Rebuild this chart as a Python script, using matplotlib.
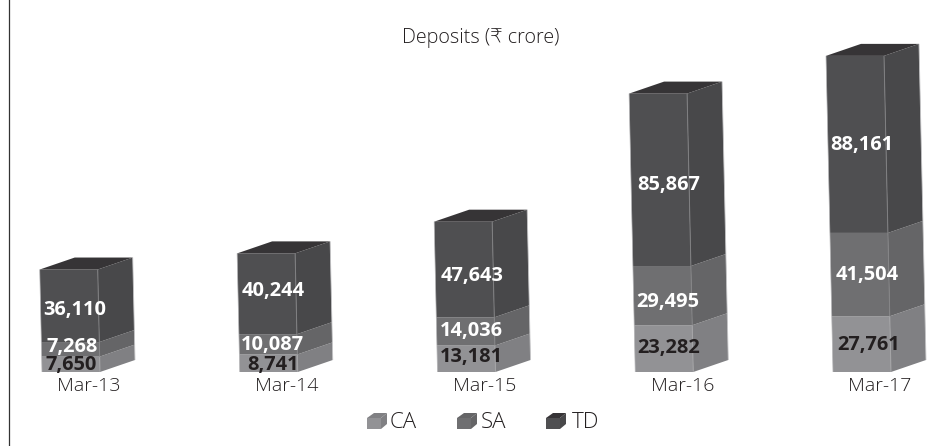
import matplotlib
matplotlib.use("Agg")
import matplotlib.pyplot as plt
import numpy as np
from matplotlib.lines import Line2D
from matplotlib.patches import Polygon
from matplotlib.transforms import Affine2D

plt.rcParams['font.family'] = ['Open Sans', 'DejaVu Sans']

# ------------------ data (Rs crore) ------------------
meses = ["Mar-13", "Mar-14", "Mar-15", "Mar-16", "Mar-17"]
ca = [7650, 8741, 13181, 23282, 27761]
sa = [7268, 10087, 14036, 29495, 41504]
td = [36110, 40244, 47643, 85867, 88161]
nombres = ["CA", "SA", "TD"]

# ------------------ estilos ------------------
W, H = 941, 446
BASE_PX = 372
PX_X = 197.75          # pixeles por categoria
PX_Y = 1 / 498.0       # pixeles por unidad
ANCHO = 58 / PX_X
DX = 35 / PX_X
DY = 12 / PX_Y
LEAN = 7 / PX_X / 157426

colores = {
    "CA": ("#929295", "#808083", "#a5a5a7"),
    "SA": ("#6f6f71", "#656567", "#858587"),
    "TD": ("#4f4f51", "#48484a", "#808082"),
}
TAPA = "#363436"
TEXTO = "#231f20"
color_label = {"CA": "#231f20", "SA": "white", "TD": "white"}

# ajustes finos de las etiquetas, en pixeles (dx, dy hacia arriba)
nudge_x = {
    "CA": [0, 4, 5, 4, 7],
    "SA": [1, 4, 5, 4, 5],
    "TD": [4, 4, 6, 4, 0],
}
nudge_y = {
    "CA": [-1, -2, 2, 1, -1],
    "SA": [2, -1, 0, -6, 0],
    "TD": [-4, 3, -6, -5, -1],
}

fig = plt.figure(figsize=(W / 100, H / 100), dpi=100)
ax = fig.add_axes([0, (H - BASE_PX) / H, 1, BASE_PX / H])
ax.set_xlim(-71 / PX_X, (W - 71) / PX_X)
ax.set_ylim(0, BASE_PX / PX_Y)
for s in ax.spines.values():
    s.set_visible(False)
ax.set_yticks([])


def segmento(x0, y0, y1, nombre):
    """Cara frontal y lateral de un tramo de la barra."""
    front, side, brillo = colores[nombre]
    izq0, izq1 = x0 - ANCHO / 2 - LEAN * y0, x0 - ANCHO / 2 - LEAN * y1
    der0, der1 = izq0 + ANCHO, izq1 + ANCHO
    ax.add_patch(Polygon([(izq0, y0), (der0, y0), (der1, y1), (izq1, y1)],
                         closed=True, fc=front, ec="none", clip_on=False))
    ax.add_patch(Polygon([(der0, y0), (der0 + DX, y0 + DY), (der1 + DX, y1 + DY), (der1, y1)],
                         closed=True, fc=side, ec="none", clip_on=False))
    ax.plot([der0, der1], [y0, y1], color=brillo, lw=0.7, solid_capstyle="butt")
    ax.plot([der0 + DX, der1 + DX], [y0 + DY, y1 + DY], color="#c4c4c6", lw=0.6, solid_capstyle="butt")
    ax.plot([izq0, izq1], [y0, y1], color="#b5b5b7", lw=0.5, solid_capstyle="butt")


series = {"CA": ca, "SA": sa, "TD": td}
for i in range(len(meses)):
    abajo = 0
    for nombre in nombres:
        v = series[nombre][i]
        segmento(i, abajo, abajo + v, nombre)
        medio = abajo + v / 2
        ax.annotate(f"{v:,}", (i, medio),
                    xytext=(nudge_x[nombre][i] * 0.72, nudge_y[nombre][i] * 0.72),
                    textcoords="offset points", ha="center", va="center",
                    fontsize=14.4, fontweight="bold", color=color_label[nombre], zorder=5)
        abajo += v
    # tapa superior
    izq = i - ANCHO / 2 - LEAN * abajo
    ax.add_patch(Polygon([(izq, abajo), (izq + ANCHO, abajo),
                          (izq + ANCHO + DX, abajo + DY), (izq + DX, abajo + DY)],
                         closed=True, fc=TAPA, ec="none", clip_on=False))

ax.set_xticks(np.arange(len(meses)) + 18 / PX_X)
ax.set_xticklabels(meses, fontsize=14, color=TEXTO, fontweight="light")
ax.tick_params(axis="x", length=0, pad=3.5)

ax.set_title("Deposits (\u20b9 crore)", x=481 / W, y=1 - 38 / BASE_PX, va="center", pad=0,
             fontsize=14.2, color=TEXTO, fontweight="light")

# ------------------ leyenda, en pixeles ------------------
px = Affine2D().scale(1, -1).translate(0, H)
for nombre, x_ley, x_txt in zip(nombres, [367, 457, 546], [390, 481, 572]):
    front, side, _ = colores[nombre]
    y_ley = 429
    fig.add_artist(Polygon([(x_ley, y_ley), (x_ley + 14, y_ley), (x_ley + 14, y_ley - 11), (x_ley, y_ley - 11)],
                           closed=True, fc=front, ec="none", transform=px))
    fig.add_artist(Polygon([(x_ley + 14, y_ley), (x_ley + 20, y_ley - 5), (x_ley + 20, y_ley - 16), (x_ley + 14, y_ley - 11)],
                           closed=True, fc=side, ec="none", transform=px))
    fig.add_artist(Polygon([(x_ley, y_ley - 11), (x_ley + 14, y_ley - 11), (x_ley + 20, y_ley - 16), (x_ley + 7, y_ley - 16)],
                           closed=True, fc=TAPA if nombre == "TD" else side, ec="none", transform=px))
    fig.text(x_txt / W, 1 - 423 / H, nombre, fontsize=16, color=TEXTO, ha="left", va="center", fontweight="light")

# linea vertical a la izquierda
fig.add_artist(Line2D([9, 9], [0, 445], color="#333333", lw=0.9, transform=px))

fig.savefig("out.png", dpi=100)
